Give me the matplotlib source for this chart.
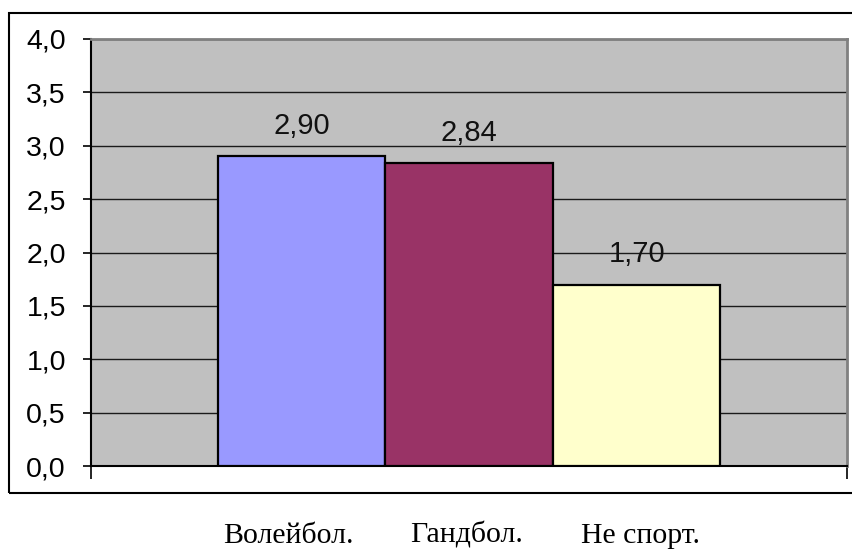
import matplotlib.pyplot as plt
from matplotlib.patches import Rectangle
from matplotlib.ticker import FuncFormatter

groups = ['Волейбол.', 'Гандбол.', 'Не спорт.']
scores = [2.90, 2.84, 1.70]
bar_colors = ['#9999FF', '#993366', '#FFFFCC']
y_ticks = [0.0, 0.5, 1.0, 1.5, 2.0, 2.5, 3.0, 3.5, 4.0]

W, H = 853, 549
fig = plt.figure(figsize=(W / 100, H / 100), dpi=100)

# plot area in pixel coordinates
left, right, top, bottom = 91, 847, 39, 466
ax = fig.add_axes([left / W, (H - bottom) / H, (right - left) / W, (bottom - top) / H])
ax.set_facecolor('#C0C0C0')

# outer chart frame (runs off the right side)
fig.patches.append(Rectangle((9 / W, (H - 493) / H), 900 / W, 480 / H,
                             transform=fig.transFigure, fill=False,
                             edgecolor='black', linewidth=1.5, clip_on=False))

gap = 0.755
pos = list(range(len(scores)))
ax.bar(pos, scores, width=1.0, color=bar_colors, edgecolor='black',
       linewidth=1.6, zorder=3)
ax.set_xlim(-0.5 - gap, len(scores) - 0.5 + gap)
ax.set_ylim(0, 4)

for x, v in zip(pos, scores):
    ax.annotate(f'{v:.2f}'.replace('.', ','), xy=(x, v), xytext=(0, 16),
                textcoords='offset points', ha='center', va='baseline',
                fontsize=21, family='Liberation Sans', color='#111111', zorder=4)

ax.set_yticks(y_ticks)
ax.yaxis.set_major_formatter(FuncFormatter(lambda v, p: f'{v:.1f}'.replace('.', ',')))
ax.yaxis.grid(True, color='#1a1a1a', linewidth=1.0, zorder=1)
ax.set_axisbelow(True)
ax.tick_params(axis='y', direction='out', length=6, width=1.2, pad=12,
               labelsize=20.5, colors='black')
for lab in ax.get_yticklabels():
    lab.set_family('Liberation Sans')

ax.set_xticks([-0.5 - gap, len(scores) - 0.5 + gap])
ax.set_xticklabels(['', ''])
ax.tick_params(axis='x', direction='out', length=9, width=1.2)

ax.spines['left'].set_color('black')
ax.spines['left'].set_linewidth(1.5)
ax.spines['bottom'].set_color('black')
ax.spines['bottom'].set_linewidth(1.5)
ax.spines['top'].set_color('#808080')
ax.spines['top'].set_linewidth(2)
ax.spines['right'].set_color('#808080')
ax.spines['right'].set_linewidth(2)

# category captions under the frame
for name, cx in zip(groups, [288, 467, 641]):
    fig.text(cx / W, (H - 543) / H, name, ha='center', va='baseline',
             fontsize=21.5, family='Liberation Serif', color='black')

fig.savefig('out.png', dpi=100)
